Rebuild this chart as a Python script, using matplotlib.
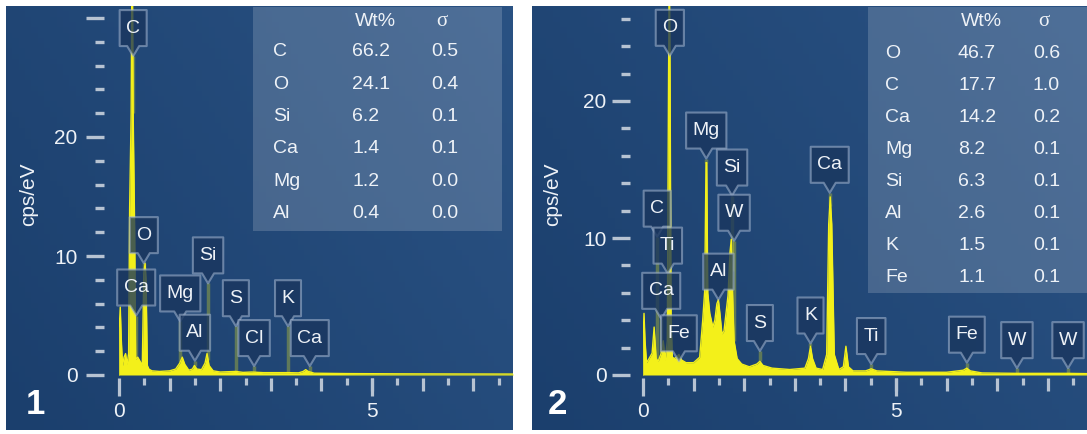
#!/usr/bin/env python3
"""EDS spectra of two samples, styled like the instrument screenshots."""

import numpy as np
import matplotlib
matplotlib.use('Agg')
import matplotlib.pyplot as plt
from matplotlib import transforms as mtransforms
from matplotlib.colors import LinearSegmentedColormap
from matplotlib.patches import Polygon, Rectangle
from matplotlib.ticker import FixedLocator, FuncFormatter, MultipleLocator, NullFormatter

W, H, DPI = 1087, 434, 100

# --- spectrum 1 (keV, cps/eV) ---
e1 = [0.00, 0.005, 0.025, 0.045, 0.07, 0.10, 0.13, 0.16, 0.19, 0.21,
      0.24, 0.255, 0.265, 0.28, 0.31, 0.33, 0.37, 0.41, 0.46, 0.49,
      0.515, 0.535, 0.56, 0.59, 0.65, 0.80, 1.00, 1.12, 1.20, 1.25,
      1.30, 1.38, 1.45, 1.49, 1.54, 1.63, 1.70, 1.74, 1.78, 1.86,
      2.00, 2.31, 2.45, 2.62, 2.85, 3.31, 3.55, 3.64, 3.69, 3.74,
      3.86, 4.5, 5.5, 6.5, 7.79]
c1 = [0.0, 4.0, 5.7, 3.0, 0.8, 1.5, 1.8, 0.9, 1.8, 14.0,
      22.0, 34.0, 34.0, 22.0, 12.0, 1.3, 1.5, 1.2, 0.8, 8.5,
      9.4, 8.0, 0.8, 0.5, 0.35, 0.3, 0.35, 0.5, 1.0, 1.5,
      0.9, 0.4, 0.5, 0.8, 0.5, 0.45, 1.0, 1.8, 0.8, 0.35,
      0.25, 0.3, 0.22, 0.25, 0.2, 0.2, 0.18, 0.3, 0.45, 0.3,
      0.15, 0.12, 0.1, 0.09, 0.08]

# --- spectrum 2 ---
e2 = [0.00, 0.005, 0.02, 0.04, 0.07, 0.12, 0.18, 0.22, 0.26, 0.30,
      0.36, 0.40, 0.44, 0.48, 0.505, 0.52, 0.535, 0.555, 0.58, 0.62,
      0.66, 0.71, 0.76, 0.85, 1.00, 1.12, 1.18, 1.22, 1.245, 1.26,
      1.28, 1.32, 1.38, 1.42, 1.46, 1.49, 1.52, 1.56, 1.60, 1.64,
      1.68, 1.72, 1.745, 1.77, 1.80, 1.86, 1.95, 2.10, 2.25, 2.31,
      2.37, 2.55, 2.90, 3.20, 3.27, 3.31, 3.35, 3.42, 3.55, 3.63,
      3.67, 3.70, 3.73, 3.78, 3.87, 3.96, 4.01, 4.06, 4.15, 4.40,
      4.51, 4.62, 5.20, 6.00, 6.33, 6.40, 6.47, 6.70, 7.39, 8.40,
      8.78]
c2 = [0.0, 3.0, 4.5, 2.5, 0.9, 1.2, 1.6, 3.5, 1.2, 1.0,
      1.6, 2.5, 1.1, 2.5, 22.0, 30.0, 22.0, 4.0, 1.3, 1.2,
      1.3, 1.5, 1.1, 0.9, 0.9, 1.3, 4.0, 6.2, 15.5, 15.5,
      6.0, 4.5, 3.5, 4.0, 5.2, 5.5, 4.5, 3.0, 3.2, 4.5,
      5.8, 9.0, 9.9, 6.0, 2.5, 1.2, 0.8, 0.6, 0.8, 1.0,
      0.7, 0.5, 0.4, 0.5, 1.2, 2.1, 1.2, 0.5, 0.4, 1.5,
      11.0, 13.0, 11.0, 1.5, 0.4, 0.6, 2.1, 0.6, 0.3, 0.3,
      0.45, 0.3, 0.2, 0.2, 0.35, 0.5, 0.3, 0.15, 0.12, 0.12,
      0.1]

# peak labels: element, energy (keV), height of the pointer tip (cps/eV)
lab1 = ['C', 'O', 'Ca', 'Mg', 'Si', 'Al', 'S', 'Cl', 'K', 'Ca']
lab1_e = [0.28, 0.49, 0.34, 1.21, 1.76, 1.50, 2.31, 2.67, 3.34, 3.77]
lab1_tip = [26.8, 9.4, 5.0, 4.5, 7.7, 1.2, 4.1, 0.75, 4.1, 0.75]

lab2 = ['O', 'Mg', 'Si', 'W', 'C', 'Ti', 'Ca', 'Al', 'Fe', 'S',
        'K', 'Ca', 'Ti', 'Fe', 'W', 'W']
lab2_e = [0.53, 1.25, 1.76, 1.80, 0.28, 0.49, 0.36, 1.49, 0.71, 2.31,
          3.31, 3.69, 4.51, 6.40, 7.39, 8.40]
lab2_tip = [23.3, 15.8, 13.1, 9.8, 10.1, 7.4, 4.1, 5.5, 1.0, 1.75,
            2.3, 13.3, 0.8, 0.9, 0.5, 0.5]

# quantification tables
tab1_el = ['C', 'O', 'Si', 'Ca', 'Mg', 'Al']
tab1_wt = [66.2, 24.1, 6.2, 1.4, 1.2, 0.4]
tab1_sd = [0.5, 0.4, 0.1, 0.1, 0.0, 0.0]

tab2_el = ['O', 'C', 'Ca', 'Mg', 'Si', 'Al', 'K', 'Fe']
tab2_wt = [46.7, 17.7, 14.2, 8.2, 6.3, 2.6, 1.5, 1.1]
tab2_sd = [0.6, 1.0, 0.2, 0.1, 0.1, 0.1, 0.1, 0.1]

YELLOW = '#f3f01a'
TXT = '#eef2f7'
TICK = '#b7c3d2'
BOX_FC = (0.10, 0.21, 0.37, 0.78)
BOX_EC = (0.66, 0.73, 0.83, 0.55)
BOX_H, PTR_H = 36, 10

plt.rcParams['font.family'] = ['Liberation Sans', 'DejaVu Sans']

fig = plt.figure(figsize=(W / DPI, H / DPI), dpi=DPI)
fig.patch.set_facecolor('white')
bg_cmap = LinearSegmentedColormap.from_list('bg', ['#1b3f6d', '#2a5283'])


def fx(px):
    return px / W


def fy(py):
    return 1 - py / H


def panel_background(x0, x1, table_box):
    bg = fig.add_axes([fx(x0), fy(430), (x1 - x0) / W, 424 / H])
    g = np.linspace(0, 1, 80)
    grad = 0.65 * g[None, :] + 0.35 * g[:, None]
    bg.imshow(grad, cmap=bg_cmap, aspect='auto', extent=(0, 1, 0, 1), origin='lower')
    bg.set_axis_off()
    tx0, ty0, tx1, ty1 = table_box
    bg.add_patch(Rectangle((fx(tx0), fy(ty1)), (tx1 - tx0) / W, (ty1 - ty0) / H,
                           transform=fig.transFigure, fc='white', alpha=0.17, lw=0))
    return bg


def spectrum_axes(x0, x1, xmax, ypx_per_unit, ytop, spine_off, ypad):
    ybot = -0.25
    top_px = 375 - ytop * ypx_per_unit
    bot_px = 375 - ybot * ypx_per_unit
    ax = fig.add_axes([fx(x0), fy(bot_px), (x1 - x0) / W, (bot_px - top_px) / H])
    ax.set_facecolor('none')
    ax.set_xlim(0, xmax)
    ax.set_ylim(ybot, ytop)
    for s in ax.spines.values():
        s.set_visible(False)
    ax.spines['left'].set_position(('outward', spine_off * 72 / DPI))

    # y ticks: long every 10 (labels up to 20), short every 2
    ax.yaxis.set_major_locator(MultipleLocator(10))
    ax.yaxis.set_minor_locator(MultipleLocator(2))
    ax.yaxis.set_major_formatter(FuncFormatter(lambda v, _: f'{v:.0f}' if v <= 20 else ''))
    ax.tick_params(axis='y', which='major', direction='out', length=13, width=2.4,
                   color=TICK, labelcolor=TXT, labelsize=15, pad=ypad)
    ax.tick_params(axis='y', which='minor', direction='out', length=6.5, width=2.4, color=TICK)

    # x ticks: halves short, integers medium, 0 and 5 long with labels
    ax.xaxis.set_major_locator(FixedLocator(np.arange(1, 9)))
    ax.xaxis.set_minor_locator(FixedLocator(np.arange(0.5, 9, 1.0)))
    ax.xaxis.set_major_formatter(NullFormatter())
    ax.tick_params(axis='x', which='major', direction='out', length=9.5, width=2.3, color=TICK)
    ax.tick_params(axis='x', which='minor', direction='out', length=5, width=2.3, color=TICK)
    sec = ax.secondary_xaxis('bottom')
    sec.set_xticks([0, 5])
    sec.tick_params(direction='out', length=13, width=2.3, color=TICK,
                    labelcolor=TXT, labelsize=15, pad=4)
    for s in sec.spines.values():
        s.set_visible(False)
    return ax


def draw_spectrum(ax, e, c):
    ax.fill_between(e, 0, c, color=YELLOW, lw=0, zorder=3)
    ax.plot(e, c, color=YELLOW, lw=1.0, zorder=3)


def draw_labels(ax, names, energies, tips, e, c):
    renderer = fig.canvas.get_renderer()
    for name, x, tip in zip(names, energies, tips):
        peak = np.interp(x, e, c)
        if tip > peak:
            ax.plot([x, x], [peak, tip], color=YELLOW, alpha=0.3, lw=2.5,
                    zorder=4, solid_capstyle='butt', clip_on=False)
        t = ax.annotate(name, (x, tip), xytext=(0, PTR_H + BOX_H / 2),
                        textcoords='offset pixels', ha='center', va='center',
                        color=TXT, fontsize=14, zorder=6, annotation_clip=False)
        w = t.get_window_extent(renderer).width + 13
        verts = np.array([[0, 0], [-6, PTR_H], [-w / 2, PTR_H], [-w / 2, PTR_H + BOX_H],
                          [w / 2, PTR_H + BOX_H], [w / 2, PTR_H], [6, PTR_H]]) / DPI
        trans = fig.dpi_scale_trans + mtransforms.ScaledTranslation(x, tip, ax.transData)
        ax.add_patch(Polygon(verts, closed=True, transform=trans, fc=BOX_FC, ec=BOX_EC,
                             lw=1.5, zorder=5, clip_on=False, joinstyle='round'))


def draw_table(cols, header_y, row0, step, els, wts, sds):
    fig.text(fx(cols[1] + 3), fy(header_y), 'Wt%', color=TXT, fontsize=14, va='center')
    fig.text(fx(cols[2] + 5), fy(header_y), 'σ', color=TXT, fontsize=15, va='center',
             family=['Liberation Serif', 'DejaVu Serif'])
    for i, (el, wt, sd) in enumerate(zip(els, wts, sds)):
        y = fy(row0 + i * step)
        fig.text(fx(cols[0]), y, el, color=TXT, fontsize=14, va='center')
        fig.text(fx(cols[1]), y, f'{wt:.1f}', color=TXT, fontsize=14, va='center')
        fig.text(fx(cols[2]), y, f'{sd:.1f}', color=TXT, fontsize=14, va='center')


# panel 1
panel_background(6, 513, (253, 7, 502, 231))
ax1 = spectrum_axes(119, 513, 394 / 50.6, 11.9, 31.0, 15, 6)
draw_spectrum(ax1, e1, c1)
draw_labels(ax1, lab1, lab1_e, lab1_tip, e1, c1)
draw_table((273, 352, 431), 21, 52, 32.3, tab1_el, tab1_wt, tab1_sd)
fig.text(fx(29), fy(194), 'cps/eV', rotation=90, color=TXT, fontsize=15,
         ha='center', va='center')
fig.text(fx(35), fy(405), '1', color='white', fontsize=25, fontweight='bold',
         ha='center', va='center')

# panel 2
panel_background(532, 1087, (868, 7, 1087, 293))
ax2 = spectrum_axes(643, 1087, 444 / 50.6, 13.7, 26.9, 13, 4)
draw_spectrum(ax2, e2, c2)
draw_labels(ax2, lab2, lab2_e, lab2_tip, e2, c2)
draw_table((885, 958, 1033), 22, 53, 32.0, tab2_el, tab2_wt, tab2_sd)
fig.text(fx(553), fy(194), 'cps/eV', rotation=90, color=TXT, fontsize=15,
         ha='center', va='center')
fig.text(fx(557), fy(405), '2', color='white', fontsize=25, fontweight='bold',
         ha='center', va='center')

fig.savefig('out.png', dpi=DPI, facecolor='white')
